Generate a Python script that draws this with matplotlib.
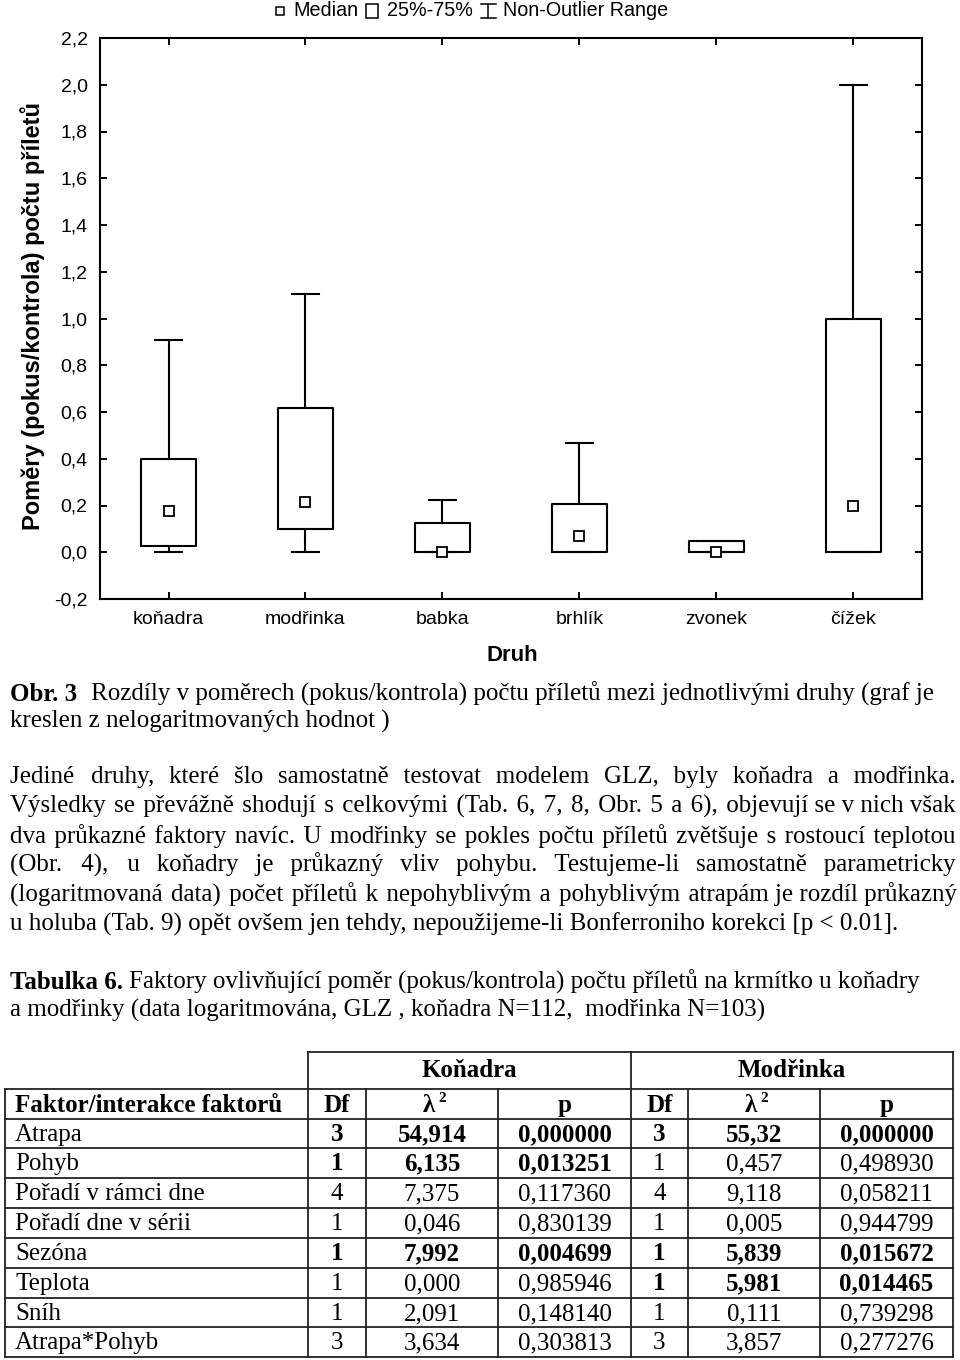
import matplotlib
matplotlib.use("Agg")
import matplotlib.pyplot as plt
from matplotlib import font_manager
from matplotlib.ft2font import FT2Font
from matplotlib.ticker import MultipleLocator, FuncFormatter
from matplotlib.patches import Rectangle

# box plot data
SPECIES = ["koňadra", "modřinka", "babka", "brhlík", "zvonek", "čížek"]
MEDIAN = [0.175, 0.213, 0.0, 0.069, 0.0, 0.2]
Q1 = [0.025, 0.099, 0.0, 0.0, 0.0, 0.0]
Q3 = [0.399, 0.618, 0.123, 0.207, 0.049, 1.0]
WHISK_LO = [0.0, 0.0, 0.0, 0.0, 0.0, 0.0]
WHISK_HI = [0.906, 1.106, 0.222, 0.466, 0.049, 2.0]

# table 6
FACTORS = ["Atrapa", "Pohyb", "Pořadí v rámci dne", "Pořadí dne v sérii",
           "Sezóna", "Teplota", "Sníh", "Atrapa*Pohyb"]
KON_DF = ["3", "1", "4", "1", "1", "1", "1", "3"]
KON_CHI = ["54,914", "6,135", "7,375", "0,046", "7,992", "0,000", "2,091", "3,634"]
KON_P = ["0,000000", "0,013251", "0,117360", "0,830139", "0,004699", "0,985946", "0,148140", "0,303813"]
KON_BOLD = [True, True, False, False, True, False, False, False]
MOD_DF = ["3", "1", "4", "1", "1", "1", "1", "3"]
MOD_CHI = ["55,32", "0,457", "9,118", "0,005", "5,839", "5,981", "0,111", "3,857"]
MOD_P = ["0,000000", "0,498930", "0,058211", "0,944799", "0,015672", "0,014465", "0,739298", "0,277276"]
MOD_BOLD = [True, False, False, False, True, True, False, False]

CAPTION = [
    [("Obr. 3", True), ("Rozdíly v poměrech (pokus/kontrola) počtu příletů mezi jednotlivými druhy (graf je", False)],
    [("kreslen z nelogaritmovaných hodnot )", False)],
]
PARAGRAPH = [
    "Jediné druhy, které šlo samostatně testovat modelem GLZ, byly koňadra a modřinka.",
    "Výsledky se převážně shodují s celkovými (Tab. 6, 7, 8, Obr. 5 a 6), objevují se v nich však",
    "dva průkazné faktory navíc. U modřinky se pokles počtu příletů zvětšuje s rostoucí teplotou",
    "(Obr. 4), u koňadry je průkazný vliv pohybu. Testujeme-li samostatně parametricky",
    "(logaritmovaná data) počet příletů k nepohyblivým a pohyblivým atrapám je rozdíl průkazný",
    "u holuba (Tab. 9) opět ovšem jen tehdy, nepoužijeme-li Bonferroniho korekci [p < 0.01].",
]
TABLE_TITLE = [
    [("Tabulka 6.", True), ("Faktory ovlivňující poměr (pokus/kontrola) počtu příletů na krmítko u koňadry", False)],
    [("a modřinky (data logaritmována, GLZ , koňadra N=112,  modřinka N=103)", False)],
]

SANS = "Liberation Sans"
SERIF = "Liberation Serif"
BODY = 18

fig = plt.figure(figsize=(9.6, 13.6), dpi=100)
ax = fig.add_axes([100 / 960, 1 - 599 / 1360, 822 / 960, 561 / 1360])

positions = list(range(1, len(SPECIES) + 1))
stats = [
    {"med": m, "q1": a, "q3": b, "whislo": lo, "whishi": hi, "label": s}
    for s, m, a, b, lo, hi in zip(SPECIES, MEDIAN, Q1, Q3, WHISK_LO, WHISK_HI)
]
lw = 1.5
ax.bxp(stats, positions=positions, widths=0.4, capwidths=0.2, showfliers=False,
       boxprops={"linewidth": lw, "color": "black"},
       whiskerprops={"linewidth": lw, "color": "black"},
       capprops={"linewidth": lw, "color": "black"},
       medianprops={"visible": False})
ax.plot(positions, MEDIAN, linestyle="none", marker="s", markersize=6.5,
        markerfacecolor="white", markeredgecolor="black", markeredgewidth=1.3,
        clip_on=False, zorder=5)

ax.set_xlim(0.5, 6.5)
ax.set_ylim(-0.2, 2.2)
ax.yaxis.set_major_locator(MultipleLocator(0.2))
ax.yaxis.set_major_formatter(FuncFormatter(lambda v, _: f"{v:.1f}".replace(".", ",")))
ax.set_xticks(positions)
ax.set_xticklabels(SPECIES)
ax.tick_params(direction="in", top=True, right=True, length=5, width=1.4,
               labelsize=14, pad=9)
for label in ax.get_xticklabels() + ax.get_yticklabels():
    label.set_family(SANS)
for spine in ax.spines.values():
    spine.set_linewidth(lw)

ax.set_ylabel("Poměry (pokus/kontrola) počtu příletů", fontsize=17,
              fontweight="bold", family=SANS)
ax.yaxis.set_label_coords(-0.067, 0.505)
ax.set_xlabel("Druh", fontsize=16, fontweight="bold", family=SANS, va="top")
ax.xaxis.set_label_coords(0.501, -0.082)

# overlay in page pixels for legend, text and table
ov = fig.add_axes([0, 0, 1, 1])
ov.set_xlim(0, 960)
ov.set_ylim(1360, 0)
ov.axis("off")

# legend
LEG = 14.2
ov.plot([280], [11], marker="s", markersize=6, markerfacecolor="white",
        markeredgecolor="black", markeredgewidth=1.1, linestyle="none")
ov.text(293, 11, "Median", fontsize=LEG, family=SANS, va="center")
ov.add_patch(Rectangle((366, 4), 12, 14, fill=False, edgecolor="black", linewidth=1.1))
ov.text(387, 11, "25%-75%", fontsize=LEG, family=SANS, va="center")
ov.plot([488, 488], [4, 18], color="black", linewidth=1.1)
ov.plot([481, 496], [4, 4], color="black", linewidth=1.1)
ov.plot([481, 496], [18, 18], color="black", linewidth=1.1)
ov.text(503, 11, "Non-Outlier Range", fontsize=LEG, family=SANS, va="center")

renderer = fig.canvas.get_renderer()

# pick a narrow space glyph the serif font really has, for justification
serif_font = FT2Font(font_manager.findfont(SERIF))
FILL = next((ch for ch in ["\u200a", "\u2009", "\u2006"] if serif_font.get_char_index(ord(ch))), None)


def measure(s, size, bold=False):
    t = ov.text(0, 0, s, fontsize=size, family=SERIF, fontweight="bold" if bold else "normal")
    w = t.get_window_extent(renderer).width
    t.remove()
    return w


def justify(line, size, target):
    words = line.split()
    natural = measure(" ".join(words), size)
    if FILL is None or len(words) < 2:
        return " ".join(words)
    unit = (measure("x" + FILL * 20 + "x", size) - measure("xx", size)) / 20
    count = max(0, round((target - natural) / unit))
    gaps = len(words) - 1
    out = words[0]
    for i, w in enumerate(words[1:]):
        n = count // gaps + (1 if i < count % gaps else 0)
        out += " " + FILL * n + w
    return out


def draw_runs(x, y, runs, size=BODY, gap=0.0):
    cur = x
    for k, (txt, bold) in enumerate(runs):
        if k > 0:
            cur += size * 100 / 72 * 0.25 + gap
        t = ov.text(cur, y, txt, fontsize=size, family=SERIF,
                    fontweight="bold" if bold else "normal", va="baseline")
        cur += t.get_window_extent(renderer).width


for runs, y in zip(CAPTION, [701, 728]):
    draw_runs(10, y, runs, gap=8)

para_y = [783, 813, 843, 872, 902, 931]
for i, (line, y) in enumerate(zip(PARAGRAPH, para_y)):
    text = justify(line, BODY, 946) if i < len(PARAGRAPH) - 1 else line
    ov.text(10, y, text, fontsize=BODY, family=SERIF, va="baseline")

for runs, y in zip(TABLE_TITLE, [989, 1017]):
    draw_runs(10, y, runs)

# table
col_x = [5, 308, 366, 498, 631, 688, 820, 953]
row_y = [1052, 1089, 1119, 1148, 1178, 1208, 1238, 1268, 1298, 1327, 1357]
tcol = "#222222"
tlw = 1.3
ov.plot([308, 953], [row_y[0], row_y[0]], color=tcol, linewidth=tlw)
for y in row_y[1:]:
    ov.plot([5, 953], [y, y], color=tcol, linewidth=tlw)
for x in [308, 631, 953]:
    ov.plot([x, x], [row_y[0], row_y[-1]], color=tcol, linewidth=tlw)
for x in [5, 366, 498, 688, 820]:
    ov.plot([x, x], [row_y[1], row_y[-1]], color=tcol, linewidth=tlw)

TS = 18
centers = [(col_x[i] + col_x[i + 1]) / 2 for i in range(len(col_x) - 1)]
ov.text((308 + 631) / 2, 1077, "Koňadra", fontsize=TS, family=SERIF, fontweight="bold",
        ha="center", va="baseline")
ov.text((631 + 953) / 2, 1077, "Modřinka", fontsize=TS, family=SERIF, fontweight="bold",
        ha="center", va="baseline")
hy = 1112
ov.text(15, hy, "Faktor/interakce faktorů", fontsize=TS, family=SERIF, fontweight="bold",
        va="baseline")
for c in (1, 4):
    ov.text(centers[c], hy, "Df", fontsize=TS, family=SERIF, fontweight="bold",
            ha="center", va="baseline")
    ov.text(centers[c + 1] - 3, hy, "λ", fontsize=TS, family=SERIF, fontweight="bold",
            ha="center", va="baseline")
    ov.text(centers[c + 1] + 6, hy - 10, "2", fontsize=11, family=SERIF, fontweight="bold",
            ha="left", va="baseline")
    ov.text(centers[c + 2], hy, "p", fontsize=TS, family=SERIF, fontweight="bold",
            ha="center", va="baseline")

for r, name in enumerate(FACTORS):
    y = row_y[r + 2] + 22
    ov.text(15, y, name, fontsize=TS, family=SERIF, va="baseline")
    for c, vals, bolds in [(1, KON_DF, KON_BOLD), (2, KON_CHI, KON_BOLD), (3, KON_P, KON_BOLD),
                           (4, MOD_DF, MOD_BOLD), (5, MOD_CHI, MOD_BOLD), (6, MOD_P, MOD_BOLD)]:
        ov.text(centers[c], y, vals[r], fontsize=TS, family=SERIF,
                fontweight="bold" if bolds[r] else "normal", ha="center", va="baseline")

fig.savefig("out.png", dpi=100, facecolor="white")
